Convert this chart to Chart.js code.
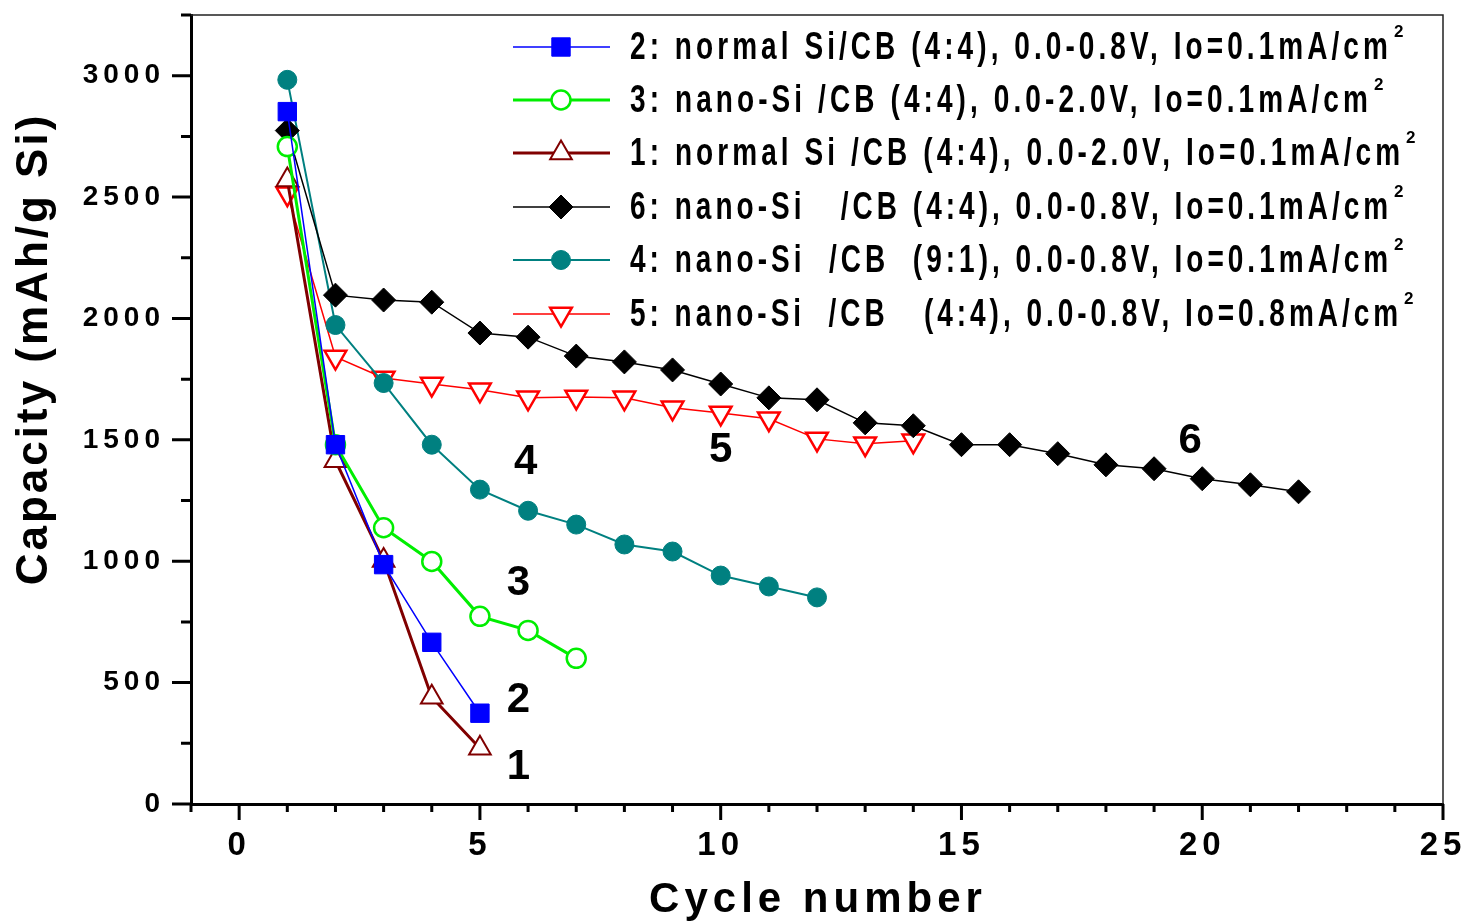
<!DOCTYPE html>
<html><head><meta charset="utf-8">
<script src="https://cdn.jsdelivr.net/npm/chart.js@4/dist/chart.umd.min.js"></script>
<style>html,body{margin:0;padding:0;background:#fff;}#wrap{width:1467px;height:921px;position:relative;overflow:hidden}</style>
</head><body><div id="wrap"><canvas id="c" width="1467" height="921"></canvas></div>
<script>
// ---- data ----
const cycles = [1,2,3,4,5,6,7,8,9,10,11,12,13,14,15,16,17,18,19,20,21,22];
const series2 = [2852,1480,986,666,374];
const series3 = [2708,1480,1138,999,773,715,600];
const series1 = [2570,1414,1003,440,230];
const series6 = [2774,2096,2076,2067,1940,1923,1845,1821,1788,1730,1673,1665,1570,1558,1480,1480,1443,1397,1381,1340,1315,1286];
const series4 = [2983,1973,1734,1480,1295,1208,1151,1069,1040,941,896,851];
const series5 = [2514,1841,1755,1730,1706,1673,1677,1673,1632,1611,1587,1504,1484,1496];
const labels = [
  "2: normal Si/CB (4:4), 0.0-0.8V, Io=0.1mA/cm",
  "3: nano-Si /CB (4:4), 0.0-2.0V, Io=0.1mA/cm",
  "1: normal Si /CB (4:4), 0.0-2.0V, Io=0.1mA/cm",
  "6: nano-Si   /CB (4:4), 0.0-0.8V, Io=0.1mA/cm",
  "4: nano-Si  /CB  (9:1), 0.0-0.8V, Io=0.1mA/cm",
  "5: nano-Si  /CB   (4:4), 0.0-0.8V, Io=0.8mA/cm"
];
const xTicks = [0,5,10,15,20,25];
const yTicks = [0,500,1000,1500,2000,2500,3000];
const curveLabels = ["1","2","3","4","5","6"];
const curveLabelX = [5.8,5.8,5.8,5.95,10.0,19.75];
const curveLabelY = [152,427,908,1405,1455,1492];
const xTitle = "Cycle number";
const yTitle = "Capacity (mAh/g Si)";

const pts = arr => arr.map((v,i)=>({x:cycles[i], y:v}));

const styles = [
  {c:'#0000ff', ps:'rect', r:13, lw:1.5, fill:'#0000ff', pbw:1},
  {c:'#00ee00', ps:'circle', r:9.5, lw:3, fill:'#ffffff', pbw:2.5},
  {c:'#800000', ps:'triangle', r:12.5, lw:3, fill:'#ffffff', pbw:2},
  {c:'#000000', ps:'rectRot', r:12, lw:1.5, fill:'#000000', pbw:1},
  {c:'#008080', ps:'circle', r:9.5, lw:2, fill:'#008080', pbw:1},
  {c:'#ff0000', ps:'triangle', r:12.5, lw:1.5, fill:'#ffffff', pbw:2.5, rot:180}
];
const allSeries = [series2, series3, series1, series6, series4, series5];

const datasets = allSeries.map((s,i)=>{
  const st = styles[i];
  return {
    label: labels[i], data: pts(s),
    borderColor: st.c, borderWidth: st.lw, backgroundColor: st.fill,
    pointStyle: st.ps, pointRadius: st.r, pointHoverRadius: st.r,
    pointBackgroundColor: st.fill, pointBorderColor: st.c, pointBorderWidth: st.pbw,
    pointRotation: st.rot || 0, tension: 0, fill: false
  };
});

function drawMarker(ctx, st, x, y){
  ctx.save();
  ctx.fillStyle = st.fill; ctx.strokeStyle = st.c; ctx.lineWidth = st.pbw;
  ctx.beginPath();
  const r = st.r;
  if (st.ps === 'rect'){ const s=Math.SQRT1_2*r; ctx.rect(x-s,y-s,2*s,2*s); }
  else if (st.ps === 'rectRot'){ ctx.moveTo(x,y-r); ctx.lineTo(x+r,y); ctx.lineTo(x,y+r); ctx.lineTo(x-r,y); ctx.closePath(); }
  else if (st.ps === 'circle'){ ctx.arc(x,y,r,0,Math.PI*2); }
  else if (st.ps === 'triangle'){
    const sgn = st.rot ? -1 : 1;
    ctx.moveTo(x, y - sgn*r);
    ctx.lineTo(x + r*Math.sin(2*Math.PI/3), y + sgn*r*0.5);
    ctx.lineTo(x - r*Math.sin(2*Math.PI/3), y + sgn*r*0.5);
    ctx.closePath();
  }
  ctx.fill(); ctx.stroke();
  ctx.restore();
}

const overlay = {
  id: 'overlay',
  beforeDraw(chart){ chart.ctx.letterSpacing = '5px'; },
  afterDraw(chart){
    const ctx = chart.ctx;
    const {left, right, top, bottom} = chart.chartArea;
    const xs = chart.scales.x, ys = chart.scales.y;
    ctx.save();
    ctx.letterSpacing = '0px';
    // frame top/right
    ctx.strokeStyle = '#222'; ctx.lineWidth = 1.5;
    ctx.beginPath(); ctx.moveTo(left, top); ctx.lineTo(right, top); ctx.lineTo(right, bottom); ctx.stroke();
    // ticks
    ctx.strokeStyle = '#000'; ctx.lineWidth = 3;
    ctx.beginPath();
    for (let v = 0; v <= ys.max + 1e-6; v += 250){
      const py = ys.getPixelForValue(v);
      const major = (v % 500 === 0) && v <= 3000;
      ctx.moveTo(left - (major ? 19 : 10), py); ctx.lineTo(left, py);
    }
    for (let v = xs.min; v <= xs.max + 1e-6; v += 1){
      const px = xs.getPixelForValue(v);
      const major = (v % 5 === 0);
      ctx.moveTo(px, bottom); ctx.lineTo(px, bottom + (major ? 16 : 8));
    }
    ctx.stroke();
    // axis titles
    ctx.fillStyle = '#000';
    ctx.font = 'bold 42px "Liberation Sans", Arial, sans-serif';
    ctx.letterSpacing = '5px';
    ctx.textAlign = 'center'; ctx.textBaseline = 'alphabetic';
    ctx.fillText(xTitle, (left + right)/2 + 1, 912);
    ctx.save();
    ctx.translate(47, 349); ctx.rotate(-Math.PI/2);
    ctx.letterSpacing = '3px';
    ctx.font = 'bold 44px "Liberation Sans", Arial, sans-serif';
    ctx.fillText(yTitle, 0, 0);
    ctx.restore();
    // curve labels
    ctx.letterSpacing = '0px';
    ctx.font = 'bold 42px "Liberation Sans", Arial, sans-serif';
    ctx.textBaseline = 'middle';
    curveLabels.forEach((t,i)=>{
      ctx.fillText(t, xs.getPixelForValue(curveLabelX[i]), ys.getPixelForValue(curveLabelY[i]));
    });
    // legend
    const rowY = [47, 100, 153, 207, 260, 314];
    const endX = [1388, 1368, 1400, 1388, 1388, 1398];
    const textX = 630;
    labels.forEach((t,i)=>{
      const st = styles[i], y = rowY[i];
      ctx.strokeStyle = st.c; ctx.lineWidth = st.lw;
      ctx.beginPath(); ctx.moveTo(513, y); ctx.lineTo(610, y); ctx.stroke();
      drawMarker(ctx, st, 561, y);
      ctx.font = 'bold 28px "Liberation Sans", Arial, sans-serif';
      ctx.letterSpacing = '0px';
      const w = ctx.measureText(t).width;
      const sp = (endX[i] - textX - w) / (t.length - 1);
      ctx.letterSpacing = sp.toFixed(2) + 'px';
      ctx.save();
      ctx.translate(textX, y + 1); ctx.scale(1, 1.4);
      ctx.textAlign = 'left'; ctx.textBaseline = 'middle'; ctx.fillStyle = '#000';
      ctx.fillText(t, 0, 0);
      ctx.restore();
      ctx.letterSpacing = '0px';
      ctx.font = 'bold 17px "Liberation Sans", Arial, sans-serif';
      ctx.textAlign = 'left';
      ctx.fillText('2', endX[i] + 6, y - 15);
    });
    ctx.restore();
  }
};

new Chart(document.getElementById('c'), {
  type: 'line',
  data: { datasets },
  options: {
    responsive: false, animation: false, devicePixelRatio: 1,
    layout: { padding: { top: 13, right: 24, left: 0, bottom: 0 } },
    plugins: { legend: { display: false }, tooltip: { enabled: false } },
    scales: {
      x: {
        type: 'linear', min: -1, max: 25,
        afterFit: s => { s.height = 117; s.paddingLeft = 0; s.paddingRight = 0; },
        afterBuildTicks: s => { s.ticks = xTicks.map(v => ({value: v})); },
        grid: { display: false, drawTicks: false },
        border: { display: true, color: '#000', width: 3 },
        ticks: { padding: 22, autoSkip: false, maxRotation: 0, color: '#000',
                 callback: v => String(v),
                 font: { family: '"Liberation Sans", Arial, sans-serif', size: 33, weight: 'bold' } }
      },
      y: {
        type: 'linear', min: 0, max: 3250,
        afterFit: s => { s.width = 191; s.paddingTop = 0; s.paddingBottom = 0; },
        afterBuildTicks: s => { s.ticks = yTicks.map(v => ({value: v})); },
        grid: { display: false, drawTicks: false },
        border: { display: true, color: '#000', width: 3 },
        ticks: { padding: 26, color: '#000',
                 callback: v => String(v),
                 font: { family: '"Liberation Sans", Arial, sans-serif', size: 28, weight: 'bold' } }
      }
    }
  },
  plugins: [overlay]
});
</script></body></html>
